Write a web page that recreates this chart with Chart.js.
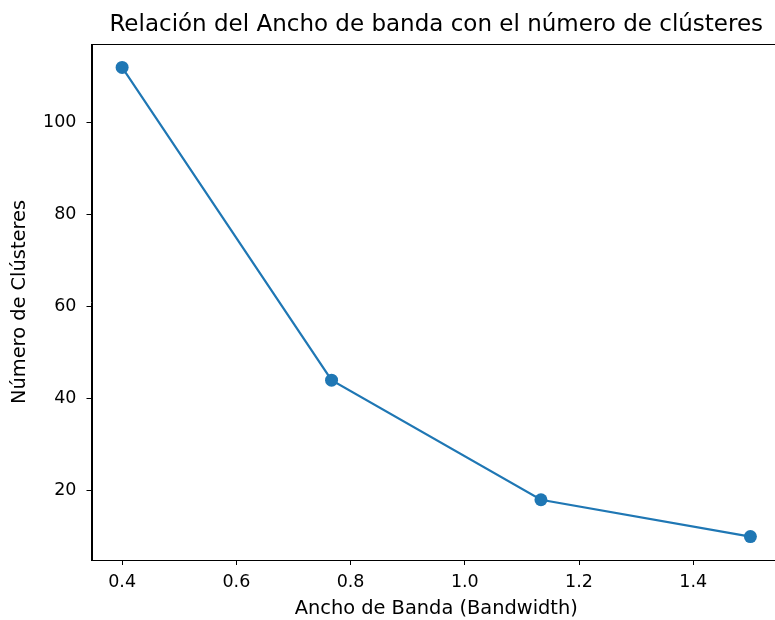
<!DOCTYPE html>
<html>
<head>
<meta charset="utf-8">
<script src="https://cdn.jsdelivr.net/npm/chart.js@4"></script>
<style>
    html, body { margin: 0; padding: 0; background: #fff; overflow: hidden; }
    #wrap { width: 800px; height: 620px; position: relative; }
</style>
</head>
<body>
<div id="wrap"><canvas id="bwChart"></canvas></div>
<script>
// Mean shift: bandwidth vs number of clusters
const bandwidths = [0.4, 0.7667, 1.1333, 1.5];
const clusterCounts = [112, 44, 18, 10];
const xTicks = [0.4, 0.6, 0.8, 1.0, 1.2, 1.4];
const yTicks = [20, 40, 60, 80, 100];

const chartTitle = 'Relación del Ancho de banda con el número de clústeres';
const FONT = 'DejaVu Sans';

// draws the axes frame (top/right spines) and the title centred over the axes
const framePlugin = {
    id: 'frame',
    afterDraw: function(chart) {
        const a = chart.chartArea;
        const ctx = chart.ctx;
        ctx.save();
        ctx.strokeStyle = '#000';
        ctx.lineWidth = 1;
        ctx.strokeRect(Math.round(a.left) + 0.5, Math.round(a.top) + 0.5,
            Math.round(a.right - a.left), Math.round(a.bottom - a.top));
        ctx.fillStyle = '#000';
        ctx.font = '23px "' + FONT + '"';
        ctx.textAlign = 'center';
        ctx.textBaseline = 'alphabetic';
        ctx.fillText(chartTitle, (a.left + a.right) / 2, 31);
        ctx.restore();
    }
};

new Chart(document.getElementById('bwChart'), {
    type: 'scatter',
    data: {
        datasets: [{
            data: bandwidths.map((b, i) => ({ x: b, y: clusterCounts[i] })),
            showLine: true,
            borderColor: '#1f77b4',
            backgroundColor: '#1f77b4',
            borderWidth: 2.2,
            pointRadius: 6.5,
            pointBorderWidth: 0,
            pointHoverRadius: 6.5
        }]
    },
    options: {
        responsive: true,
        maintainAspectRatio: false,
        animation: false,
        layout: { padding: { top: 44, right: 19, left: 0, bottom: 0 } },
        plugins: {
            legend: { display: false },
            tooltip: { enabled: false }
        },
        scales: {
            x: {
                type: 'linear',
                min: 0.3464,
                max: 1.5536,
                afterBuildTicks: s => { s.ticks = xTicks.map(v => ({ value: v })); },
                afterFit: s => { s.height = 60; },
                border: { display: true, color: '#000', width: 1 },
                grid: { display: true, drawOnChartArea: false, drawTicks: true, tickLength: 5, color: '#000' },
                ticks: {
                    color: '#000',
                    padding: 7,
                    maxRotation: 0,
                    font: { family: FONT, size: 17.5 },
                    callback: v => Number(v).toFixed(1)
                },
                title: {
                    display: true,
                    text: 'Ancho de Banda (Bandwidth)',
                    color: '#000',
                    padding: { top: 0, bottom: -1 },
                    font: { family: FONT, size: 19.4 }
                }
            },
            y: {
                type: 'linear',
                min: 4.9,
                max: 117.1,
                afterBuildTicks: s => { s.ticks = yTicks.map(v => ({ value: v })); },
                afterFit: s => { s.width = 91.5; },
                border: { display: true, color: '#000', width: 1 },
                grid: { display: true, drawOnChartArea: false, drawTicks: true, tickLength: 5, color: '#000' },
                ticks: {
                    color: '#000',
                    padding: 10,
                    font: { family: FONT, size: 17.5 },
                    callback: v => String(v)
                },
                title: {
                    display: true,
                    text: 'Número de Clústeres',
                    color: '#000',
                    padding: { top: 8, bottom: 0 },
                    font: { family: FONT, size: 19.4 }
                }
            }
        }
    },
    plugins: [framePlugin]
});
</script>
</body>
</html>
